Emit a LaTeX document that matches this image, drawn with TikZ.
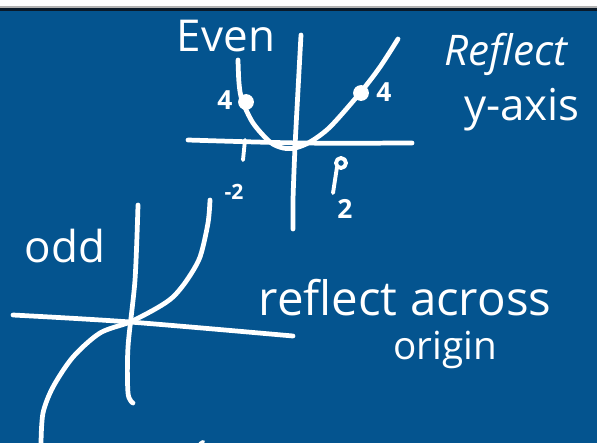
\documentclass[tikz,border=0pt]{standalone}
\usepackage{fontspec}
\setmainfont{Open Sans}
\definecolor{BoardBlue}{HTML}{04548F}
\definecolor{BoardEdge}{HTML}{0A1A2A}
\usepackage{tikz}
\tikzset{
    % white pen strokes
    ink/.style={
        draw=white,
        line width=2.7pt,
        line cap=round,
        line join=round
    },
    ink thin/.style={
        ink,
        line width=2.2pt
    },
    % handwritten words
    scribble/.style={
        text=white,
        inner sep=0pt,
        font=\fontsize{25}{28}\selectfont
    },
    scribble small/.style={
        scribble,
        font=\fontsize{15}{17}\selectfont\bfseries
    },
    dot/.style={
        circle,
        fill=white,
        inner sep=0pt,
        minimum size=9pt
    }
}
\begin{document}
\begin{tikzpicture}[x=0.02cm, y=-0.02cm]
        % Board
        \useasboundingbox (0,0) rectangle (597,443);
        \fill[white] (0,0) rectangle (597,7);
        \fill[gray!60] (0,6) rectangle (597,8);
        \fill[BoardEdge] (0,8) rectangle (597,11);
        \fill[BoardBlue] (0,11) rectangle (597,443);

        % Even graph: axes
        \draw[ink] plot[smooth] coordinates {(301,35) (298,90) (295,147) (293,200) (293,229)};
        \draw[ink] plot[smooth] coordinates {(188,140) (300,143) (412,143)};
        % Even graph: parabola
        \draw[ink] plot[smooth] coordinates {(238,60) (239,83) (242,100) (253,123) (270,142)
              (283,148) (295,148) (310,142) (330,127) (360,93) (380,67) (398,39)};
        \node[dot] (p_left) at (246,102) {};
        \node[dot] (p_right) at (361,93) {};
        % Even graph: ticks
        \draw[ink thin] (245,140) -- (243,160);
        \draw[ink thin] (337,167) -- (333,193);
        \draw[ink thin] (341,163) circle (5);

        % Even graph: labels
        \node[scribble] (even) at (226,36) {Even};
        \node[scribble small] (four_left) at (225,100) {4};
        \node[scribble small] (four_right) at (384,92) {4};
        \node[scribble small] (two_right) at (345,209) {2};
        \node[scribble small, font=\fontsize{12}{14}\selectfont\bfseries] (two_top) at (234,192) {-2};
        \node[scribble, font=\fontsize{24}{27}\selectfont\itshape] (reflect) at (506,54) {Reflect};
        \node[scribble] (yaxis) at (522,110) {y-axis};

        % Odd graph: axes
        \draw[ink] plot[smooth] coordinates {(138,205) (135,280) (128,347) (128,393) (133,403)};
        \draw[ink] plot[smooth] coordinates {(13,315) (130,322) (293,336)};
        % Odd graph: cubic
        \draw[ink] plot[smooth] coordinates {(210,200) (208,223) (200,257) (187,280) (173,297)
              (157,308) (130,322) (100,333) (73,357) (53,387) (43,413) (41,443)};
        \draw[ink thin] (199,446) arc (200:250:7);

        % Odd graph: labels
        \node[scribble] (odd) at (65,246) {odd};
        \node[scribble, font=\fontsize{27}{30}\selectfont] (across) at (405,298) {reflect across};
        \node[scribble, font=\fontsize{22}{25}\selectfont] (origin) at (445,350) {origin};
    \end{tikzpicture}
\end{document}
